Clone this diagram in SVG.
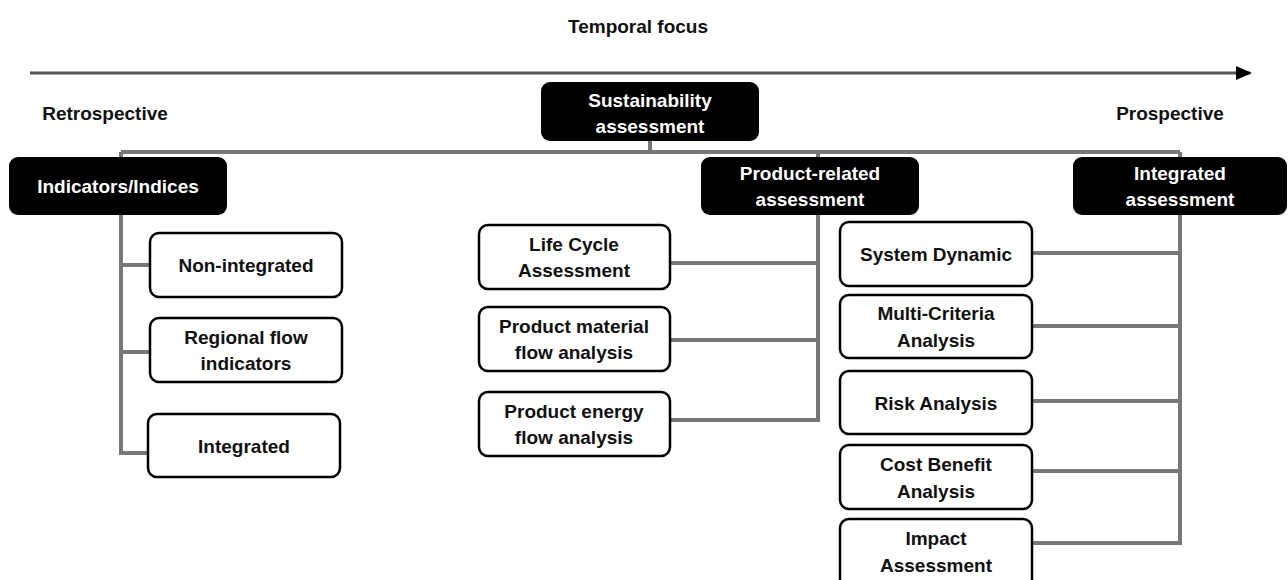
<svg xmlns="http://www.w3.org/2000/svg" width="1288" height="580" viewBox="0 0 1288 580">
<style>
text{font-family:"Liberation Sans",Arial,sans-serif;font-weight:bold;font-size:19px;text-anchor:middle}
.hdr rect{fill:#000;stroke:none}
.hdr text{fill:#fff}
.box rect{fill:#fff;stroke:#000;stroke-width:2.5}
.box text{fill:#111}
.lbl{fill:#111}
.con{fill:none;stroke:#777;stroke-width:4}
</style>
<defs>
<marker id="ah" markerWidth="16" markerHeight="14" refX="14" refY="7" orient="auto" markerUnits="userSpaceOnUse">
<path d="M0,0 L16,7 L0,14 Z" fill="#000"/>
</marker>
</defs>
<rect width="1288" height="580" fill="#fff"/>
<text class="lbl" x="638" y="33">Temporal focus</text>
<text class="lbl" x="105" y="120">Retrospective</text>
<text class="lbl" x="1170" y="120">Prospective</text>
<g id="connectors">
<line x1="30" y1="73" x2="1250" y2="73" stroke="#555" stroke-width="3" marker-end="url(#ah)"/>
<path class="con" d="M650,141 V152 M121,152 H1180 M121,152 V157 M818,152 V157 M1180,152 V157"/>
<path class="con" d="M121,215 V453 H150 M121,265 H150 M121,352 H150"/>
<path class="con" d="M818,215 V420 H670 M818,263 H670 M818,340 H670"/>
<path class="con" d="M1180,215 V543 H1032 M1180,253 H1032 M1180,326 H1032 M1180,401 H1032 M1180,471 H1032"/>
</g>
<g id="sustainability" class="hdr"><rect x="541" y="82" width="218" height="59" rx="9"/><text x="650" y="107">Sustainability</text><text x="650" y="133">assessment</text></g>
<g id="indicators" class="hdr"><rect x="9" y="157" width="218" height="58" rx="9"/><text x="118" y="193">Indicators/Indices</text></g>
<g id="product" class="hdr"><rect x="701" y="157" width="218" height="58" rx="9"/><text x="810" y="180">Product-related</text><text x="810" y="206">assessment</text></g>
<g id="integrated-assessment" class="hdr"><rect x="1073" y="157" width="214" height="58" rx="9"/><text x="1180" y="180">Integrated</text><text x="1180" y="206">assessment</text></g>
<g id="non-integrated" class="box"><rect x="150" y="233" width="192" height="64" rx="9"/><text x="246" y="272">Non-integrated</text></g>
<g id="regional" class="box"><rect x="150" y="318" width="192" height="64" rx="9"/><text x="246" y="344">Regional flow</text><text x="246" y="370">indicators</text></g>
<g id="integrated" class="box"><rect x="148" y="414" width="192" height="63" rx="9"/><text x="244" y="453">Integrated</text></g>
<g id="lca" class="box"><rect x="479" y="225" width="191" height="64" rx="9"/><text x="574" y="251">Life Cycle</text><text x="574" y="277">Assessment</text></g>
<g id="pmfa" class="box"><rect x="479" y="307" width="191" height="64" rx="9"/><text x="574" y="333">Product material</text><text x="574" y="359">flow analysis</text></g>
<g id="pefa" class="box"><rect x="479" y="392" width="191" height="64" rx="9"/><text x="574" y="418">Product energy</text><text x="574" y="444">flow analysis</text></g>
<g id="sd" class="box"><rect x="840" y="222" width="192" height="64" rx="9"/><text x="936" y="261">System Dynamic</text></g>
<g id="mca" class="box"><rect x="840" y="295" width="192" height="63" rx="9"/><text x="936" y="320">Multi-Criteria</text><text x="936" y="347">Analysis</text></g>
<g id="risk" class="box"><rect x="840" y="371" width="192" height="63" rx="9"/><text x="936" y="410">Risk Analysis</text></g>
<g id="cba" class="box"><rect x="840" y="445" width="192" height="64" rx="9"/><text x="936" y="471">Cost Benefit</text><text x="936" y="498">Analysis</text></g>
<g id="impact" class="box"><rect x="840" y="519" width="192" height="70" rx="9"/><text x="936" y="545">Impact</text><text x="936" y="572">Assessment</text></g>
</svg>
